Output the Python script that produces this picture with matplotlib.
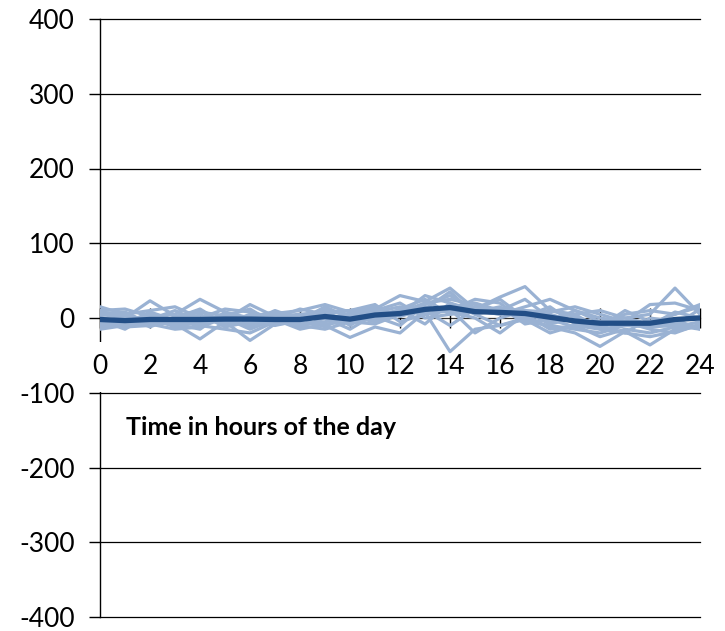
import numpy as np
import matplotlib.pyplot as plt

plt.rcParams['font.family'] = ['Lato', 'DejaVu Sans']

hours = np.arange(0, 25)

# individual days (light lines)
days = [
    [10, 12, 2, 5, 25, 8, 0, 6, 10, 18, 8, 12, 30, 22, 40, 12, 28, 42, 10, 2, -10, -5, -8, 5, 15],
    [-12, -10, -5, -8, -28, -5, -30, -8, -6, -10, -26, -12, -20, 8, -45, -15, -10, 0, -12, -20, -38, -18, -36, -15, -10],
    [5, 0, 23, 3, 0, -2, 18, 2, 5, 0, 5, 10, 5, 30, 20, 10, 5, 15, 25, 10, -5, 0, 5, 40, 5],
    [-5, -8, -3, -10, 5, -12, -5, -10, -3, 15, 0, 8, 15, 5, 10, 25, 20, -5, -10, -15, -20, -10, -5, -8, -12],
    [8, 5, 10, 15, 0, 12, 8, 0, 12, 5, 10, 15, 2, 12, 35, 5, 12, 10, 8, 15, 5, -5, 18, 20, 10],
    [-8, -12, -10, -5, -10, -15, -20, -5, -10, -15, -5, 0, 10, 15, 8, 0, -20, 5, -15, -10, -25, -15, -20, -12, -5],
    [0, -5, -2, 10, -5, 5, -5, 10, -2, 5, -8, 5, 8, 10, 15, 20, 10, 5, 5, -5, -10, -20, 0, -5, 2],
    [-10, -3, -8, -15, -12, 0, -12, -5, 5, 8, 10, 18, -5, 5, 12, -20, 0, 10, -5, 10, 0, -5, -15, -20, -8],
    [3, 8, -8, 0, 12, -8, 5, -3, -8, -5, 2, -5, 8, 20, 25, 18, 8, 2, 15, -8, -12, 10, -5, -2, -15],
    [-15, -10, 0, -12, -5, -3, -10, 5, 3, 10, -10, 10, 20, 0, 5, 8, 15, -8, -2, -12, -5, -10, -10, 8, 0],
    [15, 5, -5, 0, 8, 3, 12, -8, 0, -12, 5, -2, 12, 25, 5, 15, 10, 25, 0, 5, 10, 0, -8, -10, 12],
    [-3, -15, 5, -8, -15, 8, -8, 0, -12, 0, -15, 5, 10, -8, 20, 5, -10, -2, -20, -10, -15, -20, -25, -18, -10],
    [6, 2, -12, 2, 10, -10, 2, 8, -5, 12, 3, 2, -10, 18, 30, 10, 5, 8, -8, 0, -8, 5, 10, 5, 18],
    [-6, -8, 8, -3, -8, 0, -15, -2, -15, -8, -5, -8, 5, 10, -10, 12, 25, 0, 10, 5, -15, -10, -12, -10, -15],
]

# average (dark line)
mean = [-2, -3.5, -2, -2, -2, -1.5, -1.5, -2, -2, 2, -1.5, 4, 6, 11.5, 14,
        8.5, 7.5, 6, 1, -4, -7, -7, -7, -2, 0]

x_ticks = np.arange(0, 25, 2)
y_ticks = np.arange(-400, 401, 100)

fig = plt.figure(figsize=(7.25, 6.31), dpi=100)
ax = fig.add_axes([100/725, 1 - 617/631, 600/725, 598/631])

for d in days:
    ax.plot(hours, d, color="#9ab2d3", lw=2.3, zorder=2.7)
ax.plot(hours, mean, color="#224e86", lw=3.8, zorder=2.8)

ax.set_xlim(0, 24)
ax.set_ylim(-400, 400)

# horizontal grid lines
for v in y_ticks:
    if v != 0:
        ax.axhline(v, color="black", lw=0.9, zorder=1, clip_on=False)

ax.spines['top'].set_visible(False)
ax.spines['right'].set_visible(False)
ax.spines['left'].set_linewidth(1.0)
ax.spines['bottom'].set_position(('data', 0))
ax.spines['bottom'].set_color("#333333")
ax.spines['bottom'].set_linewidth(0.9)
ax.spines['bottom'].set_zorder(1)

ax.set_yticks(y_ticks)
ax.set_yticklabels([str(v) for v in y_ticks])
ax.tick_params(axis='y', direction='out', length=8, width=1, pad=10, labelsize=19)

ax.set_xticks(x_ticks)
ax.set_xticklabels([str(v) for v in x_ticks])
ax.tick_params(axis='x', direction='inout', length=14, width=1, pad=19, labelsize=19)
ax.xaxis.set_zorder(2.6)
# label boxes hide the y axis behind "0", as in the original
for lab in ax.get_xticklabels():
    lab.set_bbox(dict(facecolor='white', edgecolor='none', pad=9))

ax.text(1.05, -147, "Time in hours of the day", fontsize=18,
        fontweight='bold', va='center', ha='left')

fig.savefig("out.png", dpi=100)
